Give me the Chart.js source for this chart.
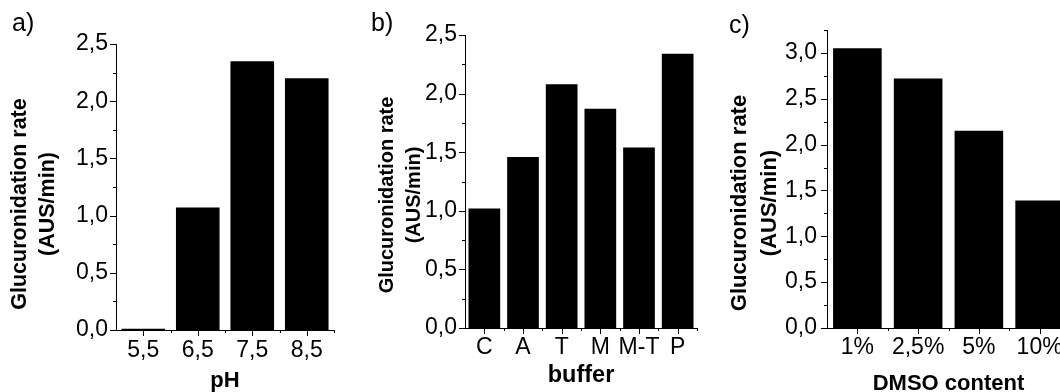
<!DOCTYPE html>
<html>
<head>
<meta charset="utf-8">
<script src="https://cdn.jsdelivr.net/npm/chart.js@4/dist/chart.umd.min.js"></script>
<style>
  html, body { margin: 0; padding: 0; background: #fff; overflow: hidden; }
  body { width: 1060px; height: 392px; position: relative; }
  canvas { position: absolute; top: 0; }
</style>
</head>
<body>
<canvas id="chartA" width="350" height="392" style="left:0px"></canvas>
<canvas id="chartB" width="360" height="392" style="left:350px"></canvas>
<canvas id="chartC" width="380" height="392" style="left:700px"></canvas>
<script>
// Data
const phLabels = ['5,5', '6,5', '7,5', '8,5'];
const phRates = [0.01, 1.07, 2.35, 2.20];

const bufferLabels = ['C', 'A', 'T', 'M', 'M-T', 'P'];
const bufferRates = [1.02, 1.46, 2.08, 1.87, 1.54, 2.34];

const dmsoLabels = ['1%', '2,5%', '5%', '10%'];
const dmsoRates = [3.05, 2.72, 2.15, 1.39];

const yTitle = ['Glucuronidation rate', '(AUS/min)'];
const FONT = '"Liberation Sans", Arial, Helvetica, sans-serif';

Chart.defaults.font.family = FONT;
Chart.defaults.color = '#000';

// Major / minor tick marks drawn outward, like the original plots
const axisTicks = {
    id: 'axisTicks',
    afterDraw(chart) {
        const ctx = chart.ctx;
        const area = chart.chartArea;
        const x = chart.scales.x;
        const y = chart.scales.y;
        ctx.save();
        ctx.strokeStyle = '#000';
        ctx.lineWidth = 1;
        ctx.beginPath();
        y.ticks.forEach(t => {
            const py = Math.round(y.getPixelForValue(t.value)) + 0.5;
            const len = t.label ? 6 : 3;
            ctx.moveTo(area.left - len, py);
            ctx.lineTo(area.left, py);
        });
        const n = x.ticks.length;
        const step = n > 1 ? x.getPixelForValue(1) - x.getPixelForValue(0) : area.right - area.left;
        for (let i = 0; i < n; i++) {
            const px = Math.round(x.getPixelForValue(i)) + 0.5;
            ctx.moveTo(px, area.bottom);
            ctx.lineTo(px, area.bottom + 6);
        }
        for (let i = 1; i <= n; i++) {
            const px = Math.round(x.getPixelForValue(0) - step / 2 + i * step) + 0.5;
            ctx.moveTo(px, area.bottom);
            ctx.lineTo(px, area.bottom + 3);
        }
        ctx.stroke();
        ctx.restore();
    }
};

// Panel letter and axis titles
const panelText = {
    id: 'panelText',
    afterDraw(chart, args, opts) {
        const ctx = chart.ctx;
        const area = chart.chartArea;
        ctx.save();
        ctx.fillStyle = '#000';
        ctx.font = '25px ' + FONT;
        ctx.textAlign = 'left';
        ctx.textBaseline = 'alphabetic';
        ctx.fillText(opts.letter, opts.letterX, opts.letterY);

        ctx.font = 'bold ' + opts.yTitleSize + 'px ' + FONT;
        ctx.textAlign = 'center';
        ctx.textBaseline = 'middle';
        [opts.yTitleX1, opts.yTitleX2].forEach((tx, i) => {
            ctx.save();
            ctx.translate(tx, opts.yTitleY);
            ctx.rotate(-Math.PI / 2);
            ctx.fillText(yTitle[i], 0, 0);
            ctx.restore();
        });

        ctx.font = 'bold ' + opts.xTitleSize + 'px ' + FONT;
        ctx.textBaseline = 'alphabetic';
        ctx.fillText(opts.xTitle, (area.left + area.right) / 2, opts.xTitleY);
        ctx.restore();
    }
};

function commaLabel(value) {
    const v = Number(value);
    if (Math.abs(v * 2 - Math.round(v * 2)) > 1e-6) return '';
    return v.toFixed(1).replace('.', ',');
}

function makeChart(id, labels, values, cfg) {
    const ctx = document.getElementById(id).getContext('2d');
    return new Chart(ctx, {
        type: 'bar',
        data: {
            labels: labels,
            datasets: [{
                data: values,
                backgroundColor: '#000',
                borderWidth: 0,
                barPercentage: cfg.barPct,
                categoryPercentage: 1.0
            }]
        },
        options: {
            responsive: false,
            animation: false,
            devicePixelRatio: 1,
            layout: { padding: { top: cfg.top, right: cfg.right, left: 0, bottom: 0 } },
            scales: {
                x: {
                    offset: true,
                    grid: { display: false, drawTicks: false },
                    border: { display: true, color: '#000', width: 1 },
                    ticks: { font: { size: 23 }, padding: cfg.xPad, autoSkip: false, maxRotation: 0 },
                    afterFit: s => { s.height = cfg.xHeight; }
                },
                y: {
                    min: 0,
                    max: cfg.yMax,
                    grid: { display: false, drawTicks: false },
                    border: { display: true, color: '#000', width: 1 },
                    ticks: { stepSize: 0.25, autoSkip: false, font: { size: 23 }, padding: cfg.yPad, callback: commaLabel },
                    afterFit: s => { s.width = cfg.yWidth; }
                }
            },
            plugins: {
                legend: { display: false },
                tooltip: { enabled: false },
                panelText: cfg.text
            }
        },
        plugins: [axisTicks, panelText]
    });
}

document.addEventListener('DOMContentLoaded', function() {
    makeChart('chartA', phLabels, phRates, {
        barPct: 0.8, top: 44, right: 16, yWidth: 116, xHeight: 62, yMax: 2.5, xPad: 7, yPad: 8,
        text: { letter: 'a)', letterX: 12, letterY: 31, yTitleSize: 21.5, yTitleX1: 20, yTitleX2: 48, yTitleY: 204,
                xTitle: 'pH', xTitleSize: 22, xTitleY: 387 }
    });
    makeChart('chartB', bufferLabels, bufferRates, {
        barPct: 0.82, top: 35, right: 13, yWidth: 115, xHeight: 64, yMax: 2.5, xPad: 6, yPad: 8,
        text: { letter: 'b)', letterX: 21, letterY: 31, yTitleSize: 20, yTitleX1: 37, yTitleX2: 64, yTitleY: 195,
                xTitle: 'buffer', xTitleSize: 23.5, xTitleY: 382 }
    });
    makeChart('chartC', dmsoLabels, dmsoRates, {
        barPct: 0.8, top: 30, right: 10, yWidth: 127, xHeight: 64, yMax: 3.25, xPad: 6, yPad: 10,
        text: { letter: 'c)', letterX: 29, letterY: 33, yTitleSize: 22, yTitleX1: 40, yTitleX2: 70, yTitleY: 203,
                xTitle: 'DMSO content', xTitleSize: 22, xTitleY: 390 }
    });
});
</script>
</body>
</html>
